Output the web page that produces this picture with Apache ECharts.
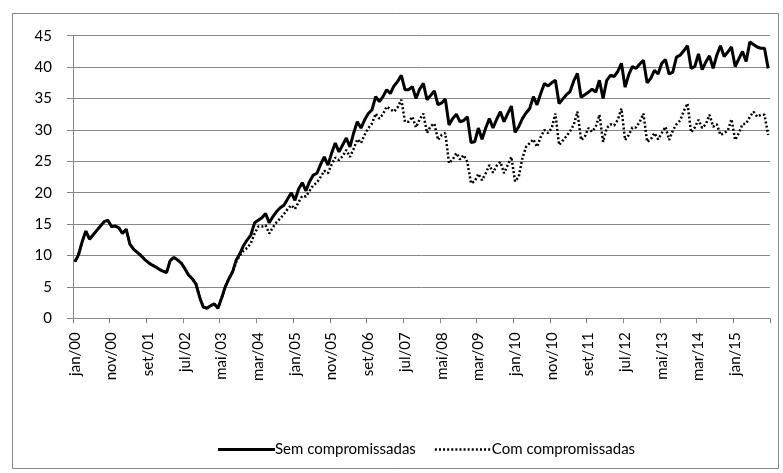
<!DOCTYPE html>
<html>
<head>
<meta charset="utf-8">
<script src="https://cdn.jsdelivr.net/npm/echarts@6/dist/echarts.min.js"></script>
<style>
html,body{margin:0;padding:0;background:#fff;}
#c{width:783px;height:473px;}
</style>
</head>
<body>
<div id="c"></div>
<script>
const monthNames = ['jan','fev','mar','abr','mai','jun','jul','ago','set','out','nov','dez'];
const years = ['00','01','02','03','04','05','06','07','08','09','10','11','12','13','14','15'];
const monthCount = 190; // jan/00 .. out/15

const semCompromissadas = [
  9.0,10.1,12.2,13.9,12.6,13.3,14.0,14.7,15.4,15.6,14.6,14.7,
  14.4,13.5,14.2,11.8,11.0,10.5,10.0,9.4,8.9,8.5,8.2,7.8,
  7.5,7.3,9.2,9.7,9.3,8.8,7.9,6.9,6.3,5.5,3.4,1.8,
  1.6,2.0,2.3,1.6,3.2,5.0,6.3,7.4,9.3,10.3,11.6,12.5,
  13.3,15.2,15.6,16.0,16.7,15.2,16.2,17.0,17.6,18.0,19.0,20.0,
  18.8,20.6,21.6,20.3,21.8,22.8,23.1,24.5,25.7,24.4,26.3,27.9,
  26.5,27.6,28.7,27.3,29.5,31.3,30.3,31.6,32.6,33.2,35.3,34.5,
  35.3,36.4,35.8,37.0,37.7,38.7,36.4,36.4,36.9,35.0,36.5,37.4,
  34.8,35.5,36.2,34.0,34.3,34.9,30.8,31.8,32.5,31.3,31.5,32.1,
  28.0,28.1,30.3,28.5,30.3,31.8,30.3,31.7,32.9,31.3,32.6,33.8,
  29.6,30.5,31.8,32.7,33.4,35.3,34.0,35.8,37.4,37.0,37.5,37.9,
  34.2,34.9,35.6,36.1,37.8,39.0,35.2,35.6,36.0,36.5,36.0,37.9,
  35.0,37.9,38.7,38.5,39.3,40.6,36.8,38.8,40.1,39.8,40.5,41.1,
  37.5,38.2,39.5,38.9,40.6,41.2,38.9,39.2,41.6,41.9,42.6,43.4,
  39.8,40.1,42.1,39.6,40.8,41.8,39.8,41.9,43.4,41.7,42.4,43.2,
  40.1,41.3,42.5,40.9,44.0,43.6,43.2,43.0,43.0,39.8
];

const comCompromissadas = [
  9.0,10.1,12.2,13.9,12.6,13.3,14.0,14.7,15.4,15.6,14.6,14.7,
  14.4,13.5,14.2,11.8,11.0,10.5,10.0,9.4,8.9,8.5,8.2,7.8,
  7.5,7.3,9.2,9.7,9.3,8.8,7.9,6.9,6.3,5.5,3.4,1.8,
  1.6,2.0,2.3,1.6,3.2,5.0,6.3,7.3,9.0,10.0,10.8,11.2,
  12.0,13.5,14.6,14.6,14.8,13.5,14.5,15.3,15.9,16.6,17.4,18.0,
  17.4,18.5,19.5,19.4,20.3,21.2,21.6,22.5,23.5,23.1,24.5,25.6,
  25.2,25.8,26.8,25.7,27.0,28.5,27.9,29.2,30.3,31.0,32.6,31.8,
  32.5,33.7,33.3,32.9,33.6,34.8,31.3,31.3,32.1,30.4,31.7,32.6,
  29.5,30.6,31.0,28.4,29.2,29.5,24.7,25.3,26.3,25.3,26.0,24.9,
  21.5,21.8,23.0,22.0,23.1,24.4,23.2,24.3,24.9,23.1,24.4,25.7,
  21.8,22.5,25.5,27.3,27.9,28.5,27.3,28.9,30.0,29.5,30.3,32.6,
  27.6,28.3,29.0,29.8,30.8,32.9,28.4,28.9,30.3,29.7,30.5,32.4,
  28.1,30.3,30.9,30.7,31.6,33.4,28.4,29.2,30.4,30.4,31.3,32.6,
  28.1,28.5,29.5,28.5,29.5,30.5,28.4,29.9,30.9,31.5,33.0,34.2,
  29.6,30.4,31.6,30.3,30.9,32.4,30.5,30.9,29.2,29.5,29.9,31.7,
  28.4,29.5,30.9,31.0,32.1,32.9,32.1,32.4,32.4,29.2
];

const yTicks = {min: 0, max: 45, interval: 5};

const categories = [];
for (let i = 0; i < monthCount; i++) {
  categories.push(monthNames[i % 12] + '/' + years[Math.floor(i / 12)]);
}

// legend icons (styling only)
let dotPath = 'path://';
for (let k = 0; k < 14; k++) {
  const x0 = k * 4.1;
  dotPath += 'M' + x0.toFixed(1) + ',0 L' + (x0 + 2).toFixed(1) + ',0 L' + (x0 + 2).toFixed(1) + ',2.5 L' + x0.toFixed(1) + ',2.5 Z ';
}
dotPath += 'M57,0 L57,0.01 L56.99,0.01 Z';
const solidPath = 'path://M0,0 L57,0 L57,3 L0,3 Z';

const chart = echarts.init(document.getElementById('c'), null, {renderer: 'canvas'});
const FONT = 'Lato, "Open Sans", sans-serif';
const GRID_COLOR = '#878787';
const DOT_STYLE = {color: '#000', width: 2.5, type: [2, 2.2], cap: 'butt'};

chart.setOption({
  animation: false,
  backgroundColor: '#ffffff',
  graphic: [{
    type: 'rect',
    shape: {x: 12.5, y: 13.5, width: 766, height: 455},
    style: {fill: 'none', stroke: GRID_COLOR, lineWidth: 1},
    silent: true
  }],
  grid: {left: 73, right: 13, top: 35.7, bottom: 154.7, containLabel: false},
  xAxis: {
    type: 'category',
    data: categories,
    boundaryGap: true,
    axisLine: {lineStyle: {color: GRID_COLOR, width: 1}},
    axisTick: {show: true, interval: 9, length: 5, lineStyle: {color: GRID_COLOR}},
    axisLabel: {
      interval: 9, rotate: 90, color: '#000', fontFamily: FONT, fontSize: 15, margin: 14
    },
    splitLine: {show: false}
  },
  yAxis: {
    type: 'value',
    min: yTicks.min, max: yTicks.max, interval: yTicks.interval,
    axisLine: {show: true, lineStyle: {color: GRID_COLOR, width: 1}},
    axisTick: {show: true, length: 6, lineStyle: {color: GRID_COLOR}},
    axisLabel: {color: '#000', fontFamily: FONT, fontSize: 15, margin: 21},
    splitLine: {show: true, lineStyle: {color: GRID_COLOR, width: 1}}
  },
  legend: {
    bottom: 11,
    left: 213,
    itemWidth: 57,
    itemHeight: 3,
    itemGap: 19,
    textStyle: {color: '#000', fontFamily: FONT, fontSize: 15, padding: [0, 0, 0, -5]},
    data: [
      {name: 'Sem compromissadas', icon: solidPath},
      {name: 'Com compromissadas', icon: dotPath}
    ]
  },
  series: [
    {
      name: 'Com compromissadas',
      type: 'line',
      data: comCompromissadas,
      symbol: 'none',
      lineStyle: DOT_STYLE,
      itemStyle: {color: '#000'},
      z: 2
    },
    {
      name: 'Sem compromissadas',
      type: 'line',
      data: semCompromissadas,
      symbol: 'none',
      lineStyle: {color: '#000', width: 3},
      itemStyle: {color: '#000'},
      z: 3
    }
  ]
});
</script>
</body>
</html>
